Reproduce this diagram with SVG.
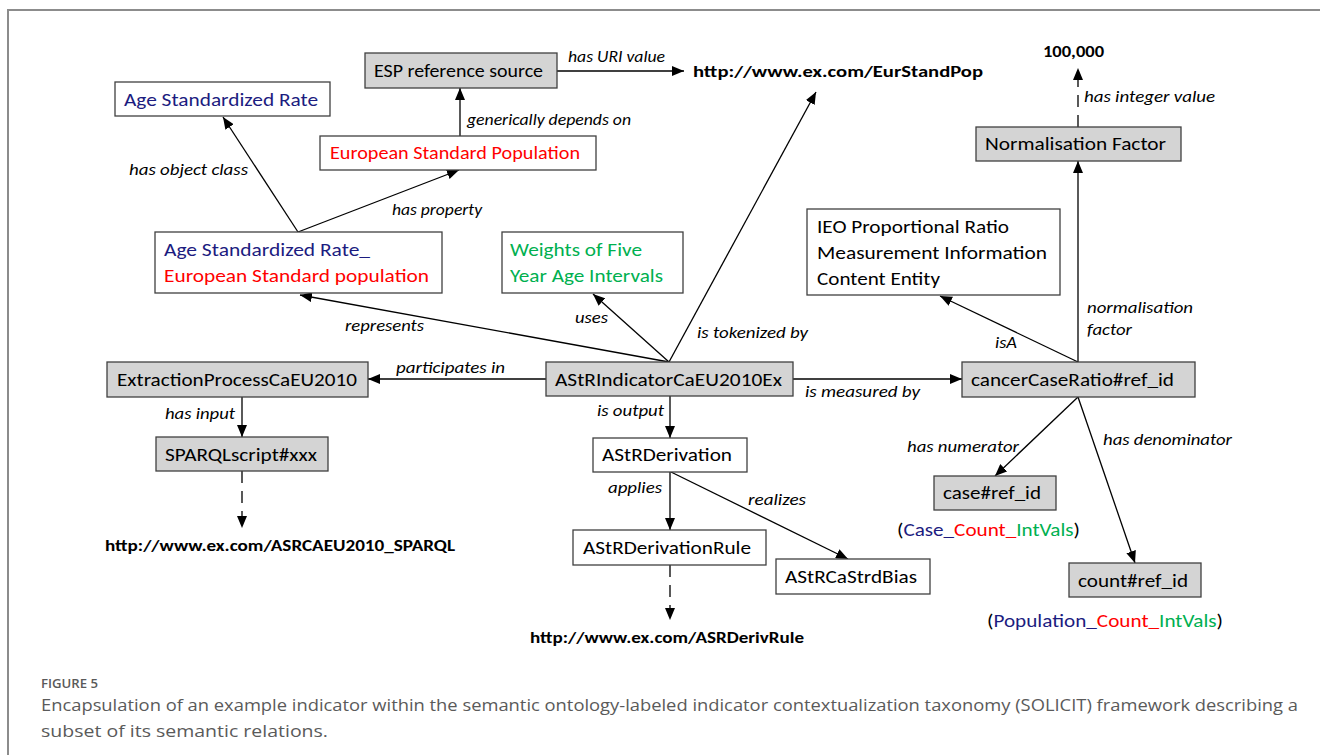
<svg xmlns="http://www.w3.org/2000/svg" width="1320" height="755" viewBox="0 0 1320 755">
  <defs>
    <marker id="arrow" viewBox="0 0 12 10" refX="12" refY="5" markerWidth="12" markerHeight="10" markerUnits="userSpaceOnUse" orient="auto">
      <path d="M0,0 L12,5 L0,10 z" fill="#000"/>
    </marker>
    <style>
      .box { fill: #fff; stroke: #404040; stroke-width: 1.3; }
      .box.grey { fill: #d4d4d4; }
      .n { font-family: Carlito, Lato, "Liberation Sans", sans-serif; font-size: 18px; fill: #000; }
      .l { font-family: Carlito, Lato, "Liberation Sans", sans-serif; font-size: 16px; font-style: italic; fill: #000; }
      .u { font-family: Carlito, Lato, "Liberation Sans", sans-serif; font-size: 16px; font-weight: bold; fill: #000; }
      .navy { fill: #1c1c80; }
      .red { fill: #ff0000; }
      .green { fill: #00b050; }
      .edge { fill: none; stroke: #000; stroke-width: 1.3; marker-end: url(#arrow); }
      .dash { stroke-dasharray: 12 8; }
      .cap { font-family: "Open Sans", "Noto Sans", sans-serif; fill: #5a5a5a; }
    </style>
  </defs>

  <!-- frame -->
  <path d="M8,755 V10 H1320" fill="none" stroke="#8c8c8c" stroke-width="2"/>

  <!-- connectors -->
  <g id="connectors">
    <line class="edge" x1="557" y1="71" x2="684" y2="71"/>
    <line class="edge" x1="460" y1="136" x2="460" y2="88"/>
    <line class="edge" x1="298" y1="232" x2="223" y2="117"/>
    <line class="edge" x1="298" y1="232" x2="459" y2="170"/>
    <line class="edge" x1="669" y1="362" x2="300" y2="295"/>
    <line class="edge" x1="669" y1="362" x2="593" y2="294"/>
    <line class="edge" x1="669" y1="362" x2="816" y2="92"/>
    <line class="edge" x1="546" y1="379" x2="368" y2="379"/>
    <line class="edge" x1="793" y1="379" x2="962" y2="379"/>
    <line class="edge" x1="242" y1="397" x2="242" y2="437"/>
    <line class="edge dash" x1="242" y1="471" x2="242" y2="528"/>
    <line class="edge" x1="670" y1="396" x2="670" y2="438"/>
    <line class="edge" x1="670" y1="472" x2="670" y2="530"/>
    <line class="edge" x1="671" y1="472" x2="848" y2="559"/>
    <line class="edge dash" x1="670" y1="565" x2="670" y2="620"/>
    <line class="edge" x1="1078" y1="362" x2="940" y2="296"/>
    <line class="edge" x1="1078" y1="362" x2="1078" y2="161"/>
    <line class="edge dash" x1="1078" y1="127" x2="1078" y2="68"/>
    <line class="edge" x1="1078" y1="397" x2="995" y2="476"/>
    <line class="edge" x1="1078" y1="397" x2="1135" y2="563"/>

    <!-- connector labels -->
    <text class="l" x="568" y="62" textLength="97" lengthAdjust="spacingAndGlyphs">has URI value</text>
    <text class="l" x="467" y="125" textLength="164" lengthAdjust="spacingAndGlyphs">generically depends on</text>
    <text class="l" x="129" y="175" textLength="119" lengthAdjust="spacingAndGlyphs">has object class</text>
    <text class="l" x="392" y="215" textLength="90" lengthAdjust="spacingAndGlyphs">has property</text>
    <text class="l" x="345" y="331" textLength="79" lengthAdjust="spacingAndGlyphs">represents</text>
    <text class="l" x="575" y="323" textLength="33" lengthAdjust="spacingAndGlyphs">uses</text>
    <text class="l" x="697" y="338" textLength="111" lengthAdjust="spacingAndGlyphs">is tokenized by</text>
    <text class="l" x="396" y="373" textLength="109" lengthAdjust="spacingAndGlyphs">participates in</text>
    <text class="l" x="805" y="397" textLength="115" lengthAdjust="spacingAndGlyphs">is measured by</text>
    <text class="l" x="165" y="419" textLength="70" lengthAdjust="spacingAndGlyphs">has input</text>
    <text class="l" x="597" y="416" textLength="67" lengthAdjust="spacingAndGlyphs">is output</text>
    <text class="l" x="608" y="493" textLength="54" lengthAdjust="spacingAndGlyphs">applies</text>
    <text class="l" x="748" y="505" textLength="58" lengthAdjust="spacingAndGlyphs">realizes</text>
    <text class="l" x="995" y="348" textLength="22" lengthAdjust="spacingAndGlyphs">isA</text>
    <text class="l" x="1087" y="313" textLength="106" lengthAdjust="spacingAndGlyphs">normalisation</text>
    <text class="l" x="1087" y="335" textLength="45" lengthAdjust="spacingAndGlyphs">factor</text>
    <text class="l" x="1084" y="102" textLength="131" lengthAdjust="spacingAndGlyphs">has integer value</text>
    <text class="l" x="907" y="452" textLength="112" lengthAdjust="spacingAndGlyphs">has numerator</text>
    <text class="l" x="1103" y="445" textLength="129" lengthAdjust="spacingAndGlyphs">has denominator</text>
  </g>

  <!-- nodes -->
  <g id="esp-reference-source">
    <rect class="box grey" x="365" y="53" width="192" height="35"/>
    <text class="n" x="374" y="77" textLength="169" lengthAdjust="spacingAndGlyphs">ESP reference source</text>
  </g>
  <g id="eur-stand-pop-uri">
    <text class="u" x="693" y="77" textLength="290" lengthAdjust="spacingAndGlyphs">http://www.ex.com/EurStandPop</text>
  </g>
  <g id="age-standardized-rate">
    <rect class="box" x="115" y="82" width="215" height="34"/>
    <text class="n navy" x="124" y="106" textLength="194" lengthAdjust="spacingAndGlyphs">Age Standardized Rate</text>
  </g>
  <g id="european-standard-population">
    <rect class="box" x="320" y="136" width="276" height="34"/>
    <text class="n red" x="330" y="159" textLength="250" lengthAdjust="spacingAndGlyphs">European Standard Population</text>
  </g>
  <g id="asr-esp">
    <rect class="box" x="155" y="232" width="287" height="61"/>
    <text class="n navy" x="164" y="256" textLength="206" lengthAdjust="spacingAndGlyphs">Age Standardized Rate_</text>
    <text class="n red" x="164" y="282" textLength="265" lengthAdjust="spacingAndGlyphs">European Standard population</text>
  </g>
  <g id="weights">
    <rect class="box" x="502" y="232" width="181" height="61"/>
    <text class="n green" x="510" y="256" textLength="132" lengthAdjust="spacingAndGlyphs">Weights of Five</text>
    <text class="n green" x="510" y="282" textLength="153" lengthAdjust="spacingAndGlyphs">Year Age Intervals</text>
  </g>
  <g id="ieo-ratio">
    <rect class="box" x="807" y="209" width="253" height="86"/>
    <text class="n" x="817" y="233" textLength="192" lengthAdjust="spacingAndGlyphs">IEO Proportional Ratio</text>
    <text class="n" x="817" y="259" textLength="230" lengthAdjust="spacingAndGlyphs">Measurement Information</text>
    <text class="n" x="817" y="285" textLength="123" lengthAdjust="spacingAndGlyphs">Content Entity</text>
  </g>
  <g id="value-100000">
    <text class="u" x="1043" y="57" textLength="61" lengthAdjust="spacingAndGlyphs">100,000</text>
  </g>
  <g id="normalisation-factor">
    <rect class="box grey" x="976" y="127" width="205" height="34"/>
    <text class="n" x="985" y="150" textLength="181" lengthAdjust="spacingAndGlyphs">Normalisation Factor</text>
  </g>
  <g id="extraction-process">
    <rect class="box grey" x="107" y="362" width="261" height="35"/>
    <text class="n" x="117" y="386" textLength="240" lengthAdjust="spacingAndGlyphs">ExtractionProcessCaEU2010</text>
  </g>
  <g id="astr-indicator">
    <rect class="box grey" x="546" y="362" width="247" height="34"/>
    <text class="n" x="555" y="386" textLength="227" lengthAdjust="spacingAndGlyphs">AStRIndicatorCaEU2010Ex</text>
  </g>
  <g id="cancer-case-ratio">
    <rect class="box grey" x="962" y="362" width="233" height="35"/>
    <text class="n" x="971" y="386" textLength="203" lengthAdjust="spacingAndGlyphs">cancerCaseRatio#ref_id</text>
  </g>
  <g id="sparql-script">
    <rect class="box grey" x="156" y="437" width="172" height="34"/>
    <text class="n" x="165" y="461" textLength="152" lengthAdjust="spacingAndGlyphs">SPARQLscript#xxx</text>
  </g>
  <g id="sparql-uri">
    <text class="u" x="105" y="551" textLength="350" lengthAdjust="spacingAndGlyphs">http://www.ex.com/ASRCAEU2010_SPARQL</text>
  </g>
  <g id="astr-derivation">
    <rect class="box" x="593" y="438" width="154" height="34"/>
    <text class="n" x="602" y="461" textLength="130" lengthAdjust="spacingAndGlyphs">AStRDerivation</text>
  </g>
  <g id="astr-derivation-rule">
    <rect class="box" x="573" y="530" width="193" height="35"/>
    <text class="n" x="583" y="554" textLength="168" lengthAdjust="spacingAndGlyphs">AStRDerivationRule</text>
  </g>
  <g id="astr-ca-strd-bias">
    <rect class="box" x="776" y="559" width="154" height="35"/>
    <text class="n" x="785" y="583" textLength="132" lengthAdjust="spacingAndGlyphs">AStRCaStrdBias</text>
  </g>
  <g id="deriv-rule-uri">
    <text class="u" x="530" y="643" textLength="274" lengthAdjust="spacingAndGlyphs">http://www.ex.com/ASRDerivRule</text>
  </g>
  <g id="case-ref">
    <rect class="box grey" x="934" y="476" width="122" height="34"/>
    <text class="n" x="943" y="499" textLength="98" lengthAdjust="spacingAndGlyphs">case#ref_id</text>
    <text class="n" x="897" y="536" textLength="183" lengthAdjust="spacingAndGlyphs">(<tspan class="navy">Case_</tspan><tspan class="red">Count_</tspan><tspan class="green">IntVals</tspan>)</text>
  </g>
  <g id="count-ref">
    <rect class="box grey" x="1069" y="563" width="132" height="34"/>
    <text class="n" x="1078" y="587" textLength="110" lengthAdjust="spacingAndGlyphs">count#ref_id</text>
    <text class="n" x="987" y="627" textLength="236" lengthAdjust="spacingAndGlyphs">(<tspan class="navy">Population_</tspan><tspan class="red">Count_</tspan><tspan class="green">IntVals</tspan>)</text>
  </g>

  <!-- caption -->
  <g id="caption">
    <text class="cap" x="41" y="688" font-size="13" font-weight="600" textLength="57" lengthAdjust="spacingAndGlyphs">FIGURE 5</text>
    <text class="cap" x="41" y="711" font-size="17" textLength="1257" lengthAdjust="spacingAndGlyphs">Encapsulation of an example indicator within the semantic ontology-labeled indicator contextualization taxonomy (SOLICIT) framework describing a</text>
    <text class="cap" x="41" y="737" font-size="17" textLength="287" lengthAdjust="spacingAndGlyphs">subset of its semantic relations.</text>
  </g>
</svg>
